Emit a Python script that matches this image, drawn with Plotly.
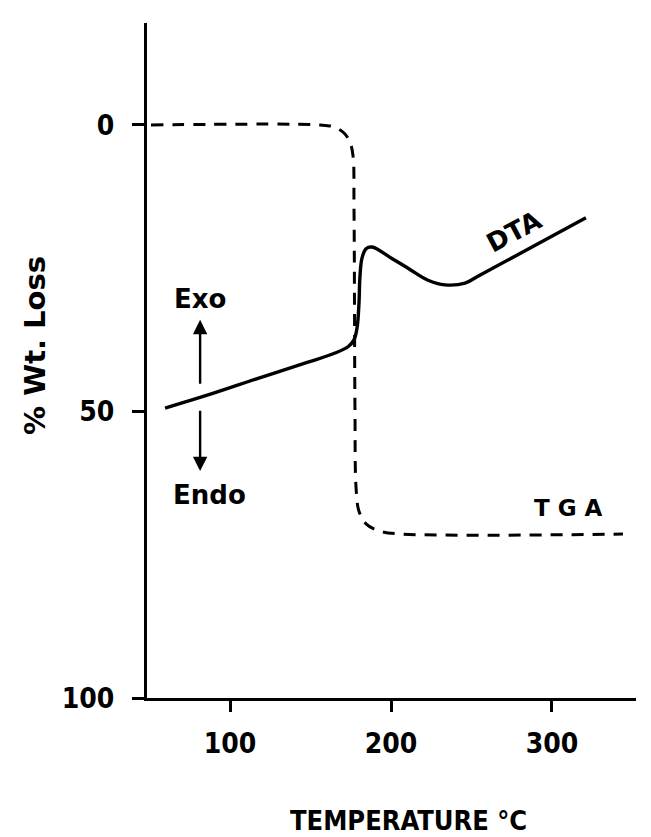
import plotly.graph_objects as go

# DTA curve (temperature in °C, signal plotted on the % axis)
dta_temp = [59.6, 86.3, 117.4, 148.4, 165.2, 173.3, 177.0, 178.9, 180.1, 180.7,
            182.0, 184.5, 188.2, 200.0, 210.6, 223.0, 233.5, 246.0, 254.0, 321.1]
dta_val = [49.4, 47.1, 44.2, 41.4, 39.8, 38.7, 37.5, 35.4, 31.1, 26.4,
           23.2, 21.6, 21.3, 23.2, 25.0, 27.1, 27.9, 27.6, 26.4, 16.2]

# TGA curve (% weight loss)
tga_temp = [50.9, 155.9, 164.6, 170.8, 174.5, 176.4, 177.0, 177.6, 178.3,
            180.1, 184.5, 193.2, 207.5, 344.1]
tga_val = [0.0, 0.0, 0.35, 1.4, 3.0, 5.4, 14.5, 49.4, 63.4,
           67.4, 69.6, 70.9, 71.4, 71.4]

x_ticks = [100, 200, 300]
y_ticks = [0, 50, 100]

COND = "DejaVu Sans Condensed, DejaVu Sans"
WIDE = "DejaVu Sans"

fig = go.Figure()
fig.add_trace(go.Scatter(x=tga_temp, y=tga_val, mode="lines", line_shape="spline",
                         line=dict(color="black", width=3, dash="12px,9px"),
                         showlegend=False, hoverinfo="skip"))
fig.add_trace(go.Scatter(x=dta_temp, y=dta_val, mode="lines", line_shape="spline",
                         line=dict(color="black", width=3.4),
                         showlegend=False, hoverinfo="skip"))

annotations = [
    dict(x=275.8, y=18.6, xref="x", yref="y", text="<b>DTA</b>", showarrow=False,
         textangle=-28, font=dict(size=26, family=WIDE)),
    dict(x=310, y=66.8, xref="x", yref="y", text="<b>T G A</b>", showarrow=False,
         font=dict(size=23, family=WIDE)),
    dict(x=81.4, y=30.4, xref="x", yref="y", text="<b>Exo</b>", showarrow=False,
         font=dict(size=26, family=WIDE)),
    dict(x=87.0, y=64.6, xref="x", yref="y", text="<b>Endo</b>", showarrow=False,
         font=dict(size=26, family=WIDE)),
    # Exo arrow (up)
    dict(x=81.4, y=34.0, ax=81.4, ay=45.4, xref="x", yref="y", axref="x", ayref="y",
         text="", showarrow=True, arrowhead=2, arrowsize=1.2, arrowwidth=2.4, arrowcolor="black"),
    # Endo arrow (down)
    dict(x=81.4, y=60.4, ax=81.4, ay=49.6, xref="x", yref="y", axref="x", ayref="y",
         text="", showarrow=True, arrowhead=2, arrowsize=1.2, arrowwidth=2.4, arrowcolor="black"),
    # axis titles
    dict(x=-0.229, y=0.5215, xref="paper", yref="paper", xanchor="center", yanchor="middle",
         text="<b>% Wt. Loss</b>", textangle=-90, showarrow=False,
         font=dict(size=29, family=WIDE)),
    dict(x=0.534, y=-0.182, xref="paper", yref="paper", xanchor="center", yanchor="middle",
         text="<b>TEMPERATURE °C</b>", showarrow=False, font=dict(size=27, family=COND)),
]

fig.update_layout(
    width=651, height=837,
    margin=dict(l=139, r=23, t=15, b=147),
    paper_bgcolor="white", plot_bgcolor="white",
    font=dict(family=COND, color="black", size=20),
    annotations=annotations,
    xaxis=dict(range=[48.4, 352.2], tickvals=x_ticks, ticktext=[f"<b>{v}</b>" for v in x_ticks],
               showgrid=False, zeroline=False, showline=True, linecolor="black", linewidth=3,
               ticks="outside", ticklen=11, tickwidth=2.5, tickcolor="black",
               ticklabelstandoff=7,
               tickfont=dict(size=28, family=COND)),
    yaxis=dict(range=[100, -17.8], tickvals=y_ticks, ticktext=[f"<b>{v}</b>" for v in y_ticks],
               showgrid=False, zeroline=False, showline=True, linecolor="black", linewidth=3,
               ticks="outside", ticklen=12, tickwidth=2.5, tickcolor="black",
               ticklabelstandoff=12,
               tickfont=dict(size=28, family=COND)),
)

fig.write_html("out.html")
